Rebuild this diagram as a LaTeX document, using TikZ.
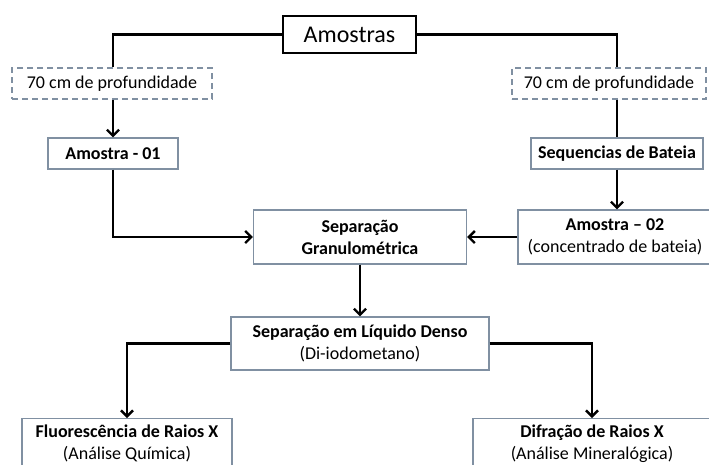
\documentclass[tikz,border=0pt]{standalone}
\usepackage{fontspec}
\setmainfont{Carlito}
\usetikzlibrary{arrows.meta,positioning}
\definecolor{BoxEdge}{RGB}{128,144,162}

\begin{document}
\begin{tikzpicture}[x=1pt,y=-1pt,
        box/.style={draw=BoxEdge,line width=1.2pt,fill=white,align=center,
                    font=\fontsize{18}{22}\selectfont,inner sep=0pt},
        dbox/.style={box,dash pattern=on 6pt off 4pt},
        root/.style={draw=black,line width=2.6pt,fill=white,inner sep=0pt,
                     font=\fontsize{24}{28}\selectfont},
        ln/.style={line width=2.4pt},
        arr/.style={-{Straight Barb[length=6pt,width=12pt]},line width=2.4pt}
      ]
        \clip (0,0) rectangle (709,464);
        \node[root] (amostras) at (349.5,34.5) [minimum width=133pt,minimum height=37pt] {Amostras};
        \node[dbox] (prof1) at (112,83.5) [minimum width=200pt,minimum height=31pt] {70 cm de profundidade};
        \node[dbox] (prof2) at (609,83.5) [minimum width=194pt,minimum height=31pt] {70 cm de profundidade};
        \node[box] (am01) at (113,153.5) [minimum width=130pt,minimum height=31pt] {\bfseries Amostra - 01};
        \node[box] (seq) at (617,153.5) [minimum width=172pt,minimum height=31pt] {\bfseries Sequencias de Bateia};
        \node[box] (sepgran) at (360,237) [minimum width=213pt,minimum height=54pt] {\bfseries Separação\\\bfseries Granulométrica};
        \node[box] (am02) at (615,237) [minimum width=194pt,minimum height=54pt] {\bfseries Amostra -- 02\\(concentrado de bateia)};
        \node[box] (sepliq) at (360,343.5) [minimum width=258pt,minimum height=53pt] {\bfseries Separação em Líquido Denso\\(Di-iodometano)};
        \node[box,anchor=north] (fluor) at (127,418) [minimum width=210pt,minimum height=60pt] {};
        \node[box,anchor=north] (difr) at (592,418) [minimum width=238pt,minimum height=60pt] {};
        \node[font=\fontsize{18}{22}\selectfont,align=center,anchor=north] (fluortxt) at (127,421) {\bfseries Fluorescência de Raios X\\(Análise Química)};
        \node[font=\fontsize{18}{22}\selectfont,align=center,anchor=north] (difrtxt) at (592,421) {\bfseries Difração de Raios X\\(Análise Mineralógica)};
        % ligacoes
        \draw[ln] (amostras.west) -| (prof1.north -| am01.north);
        \draw[ln] (amostras.east) -| (prof2.north -| seq.north);
        \draw[arr] (prof1.south -| am01.north) -- (am01.north);
        \draw[ln] (prof2.south -| seq.north) -- (seq.north);
        \draw[arr] (seq.south) -- (am02.north -| seq.south);
        \draw[arr] (am01.south) |- (sepgran.west);
        \draw[arr] (am02.west) -- (sepgran.east);
        \draw[arr] (sepgran.south) -- (sepliq.north);
        \draw[arr] (sepliq.west) -| (fluor.north);
        \draw[arr] (sepliq.east) -| (difr.north);
      \end{tikzpicture}
\end{document}
